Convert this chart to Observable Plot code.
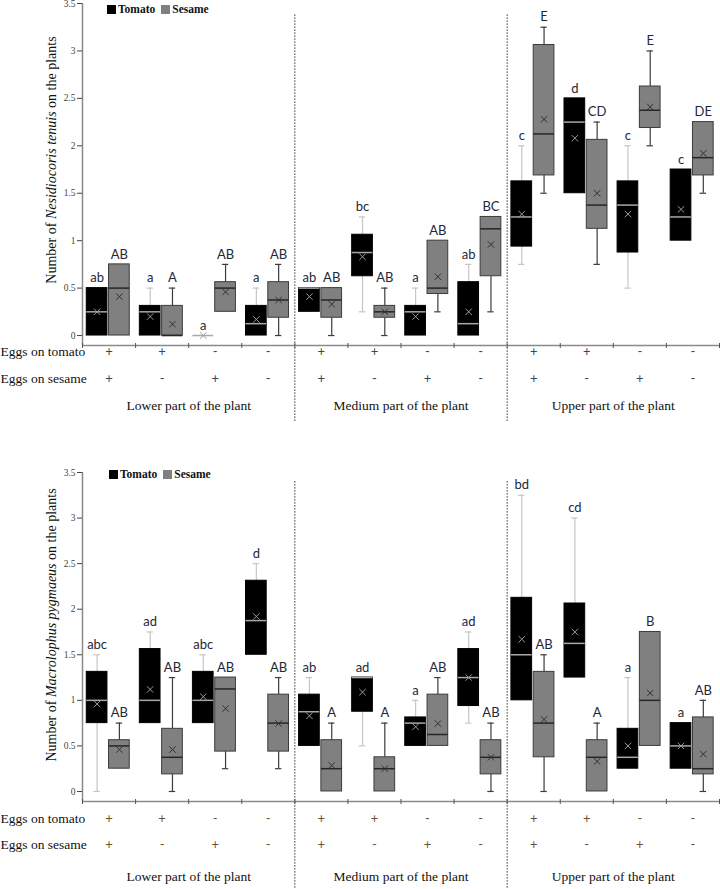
<!DOCTYPE html>
<html><head><meta charset="utf-8">
<script src="https://cdn.jsdelivr.net/npm/d3@7"></script>
<script src="https://cdn.jsdelivr.net/npm/@observablehq/plot@0.6"></script>
<style>
body{margin:0;background:#fff;}
#wrap{position:relative;width:720px;height:889px;overflow:hidden;background:#fff;}
.panel{position:absolute;left:0;}
.legend{position:absolute;font-family:"Liberation Serif",serif;font-weight:bold;font-size:11.5px;display:flex;align-items:center;line-height:10px;color:#111;}
.sw{display:inline-block;width:9px;height:9px;margin-right:2px;}
</style></head><body><div id="wrap"></div>
<script>
// ---------- shared categories ----------
const parts = ["Lower part of the plant", "Medium part of the plant", "Upper part of the plant"];
const eggsOnTomato = ["+","+","-","-","+","+","-","-","+","+","-","-"];
const eggsOnSesame = ["+","-","+","-","+","-","+","-","+","-","+","-"];
const seriesNames = ["Tomato", "Sesame"];
const yTicks = [0, 0.5, 1, 1.5, 2, 2.5, 3, 3.5];

// ---------- Nesidiocoris tenuis : tomato ----------
const nesTomMin    = [0, 0, 0, 0, 0.25, 0.25, 0, 0, 0.75, 1.5, 0.5, 1];
const nesTomQ1     = [0, 0, 0, 0, 0.25, 0.625, 0, 0, 0.9375, 1.5, 0.875, 1];
const nesTomMedian = [0.25, 0.25, 0, 0.125, 0.5, 0.875, 0.25, 0.125, 1.25, 2.25, 1.375, 1.25];
const nesTomQ3     = [0.5, 0.3125, 0, 0.3125, 0.5, 1.0625, 0.3125, 0.5625, 1.625, 2.5, 1.625, 1.75];
const nesTomMax    = [0.5, 0.5, 0, 0.5, 0.5, 1.25, 0.5, 0.75, 2, 2.5, 2, 1.75];
const nesTomMean   = [0.25, 0.2, 0, 0.17, 0.41, 0.83, 0.2, 0.25, 1.28, 2.08, 1.28, 1.33];
const nesTomLetter = ["ab","a","a","a","ab","bc","a","ab","c","d","c","c"];
// ---------- Nesidiocoris tenuis : sesame ----------
const nesSesMin    = [0, 0, 0.25, 0, 0, 0, 0.25, 0.25, 1.5, 0.75, 2, 1.5];
const nesSesQ1     = [0, 0, 0.25, 0.1875, 0.1875, 0.1875, 0.4375, 0.625, 1.6875, 1.125, 2.1875, 1.6875];
const nesSesMedian = [0.5, 0, 0.5, 0.375, 0.375, 0.25, 0.5, 1.125, 2.125, 1.375, 2.375, 1.875];
const nesSesQ3     = [0.75, 0.3125, 0.5625, 0.5625, 0.5, 0.3125, 1, 1.25, 3.0625, 2.0625, 2.625, 2.25];
const nesSesMax    = [0.75, 0.5, 0.75, 0.75, 0.5, 0.5, 1, 1.25, 3.25, 2.25, 3, 2.25];
const nesSesMean   = [0.41, 0.12, 0.46, 0.375, 0.33, 0.25, 0.62, 0.96, 2.28, 1.5, 2.41, 1.92];
const nesSesLetter = ["AB","A","AB","AB","AB","AB","AB","BC","E","CD","E","DE"];

// ---------- Macrolophus pygmaeus : tomato ----------
const macTomMin    = [0, 0.75, 0.75, 1.5, 0.5, 0.5, 0.5, 0.75, 1, 1.25, 0.25, 0.25];
const macTomQ1     = [0.75, 0.75, 0.75, 1.5, 0.5, 0.875, 0.5, 0.9375, 1, 1.25, 0.25, 0.25];
const macTomMedian = [1, 1, 1, 1.875, 0.875, 1.25, 0.75, 1.25, 1.5, 1.625, 0.375, 0.5];
const macTomQ3     = [1.3125, 1.5625, 1.3125, 2.3125, 1.0625, 1.25, 0.8125, 1.5625, 2.125, 2.0625, 0.6875, 0.75];
const macTomMax    = [1.5, 1.75, 1.5, 2.5, 1.25, 1.25, 1, 1.75, 3.25, 3, 1.25, 0.75];
const macTomMean   = [0.96, 1.12, 1.04, 1.92, 0.83, 1.09, 0.71, 1.25, 1.67, 1.75, 0.5, 0.5];
const macTomLetter = ["abc","ad","abc","d","ab","ad","a","ad","bd","cd","a","a"];
// ---------- Macrolophus pygmaeus : sesame ----------
const macSesMin    = [0.25, 0, 0.25, 0.25, 0, 0, 0.5, 0, 0, 0, 0.5, 0];
const macSesQ1     = [0.25, 0.1875, 0.4375, 0.4375, 0, 0, 0.5, 0.1875, 0.375, 0, 0.5, 0.1875];
const macSesMedian = [0.5, 0.375, 1.125, 0.75, 0.25, 0.25, 0.625, 0.375, 0.75, 0.375, 1, 0.25];
const macSesQ3     = [0.5625, 0.6875, 1.25, 1.0625, 0.5625, 0.375, 1.0625, 0.5625, 1.3125, 0.5625, 1.75, 0.8125];
const macSesMax    = [0.75, 1.25, 1.25, 1.25, 0.75, 0.75, 1.25, 0.75, 1.5, 0.75, 1.75, 1];
const macSesMean   = [0.46, 0.46, 0.91, 0.745, 0.285, 0.25, 0.745, 0.375, 0.79, 0.33, 1.08, 0.41];
const macSesLetter = ["AB","AB","AB","AB","A","A","AB","AB","AB","A","B","AB"];

// ---------- styles ----------
const STYLE = {
  Tomato: {a: -0.42, b: -0.03, fill: "#000", stroke: "#000", whisker: "#c6c6c6", median: "#a8a8a8", mean: "#9c9c9c"},
  Sesame: {a: 0.0, b: 0.39, fill: "#808080", stroke: "#3c3c3c", whisker: "#3c3c3c", median: "#262626", mean: "#303030"}
};
const SERIF = "Liberation Serif, Times New Roman, serif";
const SANS = "Lato, Open Sans, sans-serif";

function rows(series, mn, q1, md, q3, mx, mean, letters) {
  return mn.map((_, i) => ({i, series, min: mn[i], q1: q1[i], med: md[i], q3: q3[i], max: mx[i], mean: mean[i], letter: letters[i]}));
}

function seriesMarks(data, s) {
  const st = STYLE[s];
  const cx = d => d.i + (st.a + st.b) / 2;
  const capW = 0.06;
  const up = data.filter(d => d.max > d.q3);
  const lo = data.filter(d => d.min < d.q1);
  return [
    Plot.ruleX(up, {x: cx, y1: "q3", y2: "max", stroke: st.whisker, strokeWidth: 1.2}),
    Plot.ruleX(lo, {x: cx, y1: "min", y2: "q1", stroke: st.whisker, strokeWidth: 1.2}),
    Plot.ruleY(up, {y: "max", x1: d => cx(d) - capW, x2: d => cx(d) + capW, stroke: st.whisker, strokeWidth: 1.2}),
    Plot.ruleY(lo, {y: "min", x1: d => cx(d) - capW, x2: d => cx(d) + capW, stroke: st.whisker, strokeWidth: 1.2}),
    Plot.rect(data, {x1: d => d.i + st.a, x2: d => d.i + st.b, y1: "q1", y2: "q3", fill: st.fill, stroke: st.stroke, strokeWidth: 1}),
    Plot.ruleY(data, {y: "med", x1: d => d.i + st.a, x2: d => d.i + st.b, stroke: st.median, strokeWidth: 1.5}),
    Plot.dot(data, {x: cx, y: "mean", symbol: "times", r: 3, stroke: st.mean, strokeWidth: 1}),
    Plot.text(data, {x: cx, y: "max", dy: -10, text: "letter", fontFamily: SANS, fontSize: 13, fill: "#1e2838"})
  ];
}

function makeChart(cfg) {
  const cats = eggsOnTomato.map((t, i) => ({i, t, s: eggsOnSesame[i]}));
  const groups = parts.map((p, k) => ({name: p, x: k * 4 + 1.5}));
  const dividers = parts.slice(1).map((_, k) => (k + 1) * 4 - 0.5);
  const bounds = d3.range(0, 13).map(k => k - 0.5);
  const ymin = cfg.yDomain[0];
  const svg = Plot.plot({
    width: 720, height: cfg.height,
    marginLeft: 82, marginRight: 1, marginTop: cfg.marginTop, marginBottom: cfg.marginBottom,
    x: {domain: [-0.5, 11.5], axis: null},
    y: {domain: cfg.yDomain, axis: null},
    style: {background: "transparent", overflow: "visible"},
    marks: [
      Plot.ruleX(dividers, {x: d => d, y1: cfg.divider[0], y2: cfg.divider[1], stroke: "#333", strokeWidth: 1, strokeDasharray: "1.5,1.5"}),
      Plot.ruleY([ymin], {x1: -0.5, x2: 11.5, stroke: "#8a8a8a", strokeWidth: 1.5}),
      Plot.ruleX([-0.5], {y1: ymin, y2: 3.5, stroke: "#8a8a8a", strokeWidth: 1.5}),
      Plot.ruleX(bounds, {x: d => d, y1: ymin, y2: ymin, insetTop: -2, insetBottom: -3, stroke: "#555", strokeWidth: 1}),
      Plot.axisY({ticks: yTicks, tickSize: 5, tickPadding: 2, fontSize: 9.5, fontFamily: SERIF, color: "#444", tickFormat: d => String(d), label: null}),
      ...seriesMarks(cfg.tomato, "Tomato"),
      ...seriesMarks(cfg.sesame, "Sesame"),
      Plot.text(cats, {x: "i", frameAnchor: "bottom", dy: cfg.rowDy[0], text: "t", fontFamily: SANS, fontSize: 13, fill: cfg.signColor}),
      Plot.text(cats, {x: "i", frameAnchor: "bottom", dy: cfg.rowDy[1], text: "s", fontFamily: SANS, fontSize: 13, fill: cfg.signColor}),
      Plot.text(["Eggs on tomato"], {frameAnchor: "bottom-left", dx: -82, dy: cfg.rowDy[0], text: d => d, textAnchor: "start", fontFamily: SERIF, fontSize: 13.5, fill: "#111"}),
      Plot.text(["Eggs on sesame"], {frameAnchor: "bottom-left", dx: -82, dy: cfg.rowDy[1], text: d => d, textAnchor: "start", fontFamily: SERIF, fontSize: 13.5, fill: "#111"}),
      Plot.text(groups, {x: "x", frameAnchor: "bottom", dy: cfg.rowDy[2], text: "name", fontFamily: SERIF, fontSize: 13.5, fill: "#111"})
    ]
  });
  // y title with italic species name
  const t = d3.select(svg).append("text")
    .attr("transform", `translate(56,${cfg.titleY}) rotate(-90)`)
    .attr("text-anchor", "middle")
    .attr("font-family", SERIF).attr("font-size", 14).attr("fill", "#111");
  t.append("tspan").text("Number of ");
  t.append("tspan").attr("font-style", "italic").text(cfg.species);
  t.append("tspan").text(" on the plants");
  return svg;
}

const wrap = document.getElementById("wrap");
function addPanel(svg, top) {
  const d = document.createElement("div");
  d.className = "panel"; d.style.top = top + "px";
  d.appendChild(svg); wrap.appendChild(d);
}
function addLegend(left, top) {
  const lg = document.createElement("div");
  lg.className = "legend"; lg.style.left = left + "px"; lg.style.top = top + "px";
  const cols = {Tomato: "#000", Sesame: "#808080"};
  seriesNames.forEach((n, k) => {
    const sw = document.createElement("span"); sw.className = "sw"; sw.style.background = cols[n];
    if (k > 0) sw.style.marginLeft = "6px";
    const tx = document.createElement("span"); tx.textContent = n;
    lg.appendChild(sw); lg.appendChild(tx);
  });
  wrap.appendChild(lg);
}

addPanel(makeChart({
  height: 430, marginTop: 3, marginBottom: 85, yDomain: [-0.105, 3.5], divider: [3.38, -0.92],
  rowDy: [10, 37, 64], titleY: 160, species: "Nesidiocoris tenuis", signColor: "#36475c",
  tomato: rows("Tomato", nesTomMin, nesTomQ1, nesTomMedian, nesTomQ3, nesTomMax, nesTomMean, nesTomLetter),
  sesame: rows("Sesame", nesSesMin, nesSesQ1, nesSesMedian, nesSesQ3, nesSesMax, nesSesMean, nesSesLetter)
}), 0);
addPanel(makeChart({
  height: 459, marginTop: 42, marginBottom: 88, yDomain: [-0.11, 3.5], divider: [3.40, -1.08],
  rowDy: [21, 47, 79], titleY: 195, species: "Macrolophus pygmaeus", signColor: "#6b5236",
  tomato: rows("Tomato", macTomMin, macTomQ1, macTomMedian, macTomQ3, macTomMax, macTomMean, macTomLetter),
  sesame: rows("Sesame", macSesMin, macSesQ1, macSesMedian, macSesQ3, macSesMax, macSesMean, macSesLetter)
}), 430);
addLegend(107, 4);
addLegend(109, 469);
</script></body></html>
